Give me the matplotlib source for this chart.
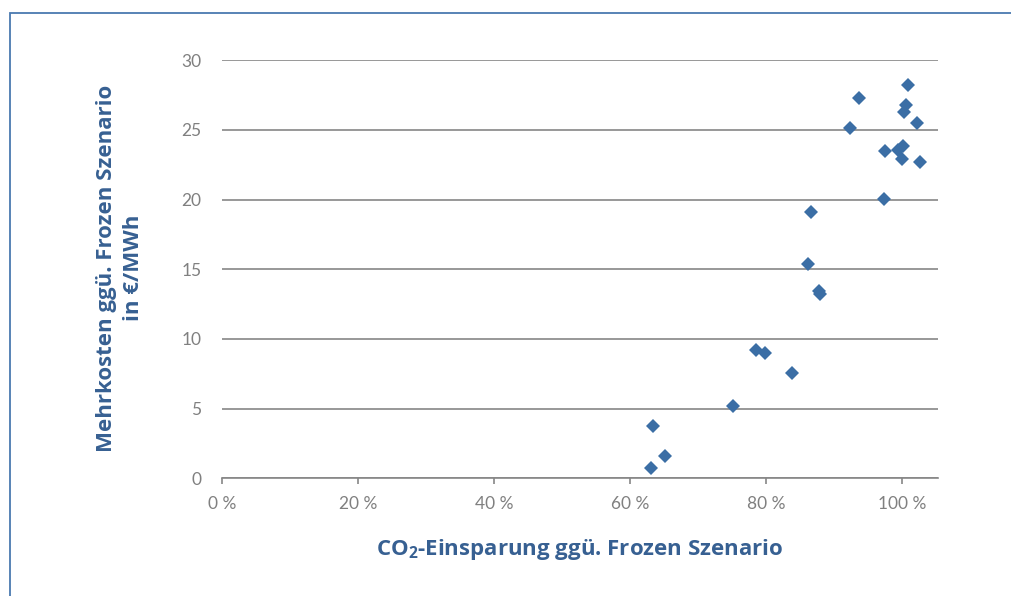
import matplotlib
matplotlib.use("Agg")
import matplotlib.pyplot as plt
from matplotlib.patches import Rectangle
from matplotlib.ticker import FuncFormatter

# CO2 savings (share of Frozen scenario) and extra cost in EUR/MWh
co2_einsparung = [0.631, 0.633, 0.651, 0.751, 0.785, 0.798, 0.838, 0.862, 0.866,
                  0.878, 0.879, 0.923, 0.936, 0.974, 0.973, 1.008, 1.006, 1.002,
                  1.021, 0.994, 1.001, 1.000, 1.026]
mehrkosten = [0.72, 3.73, 1.62, 5.17, 9.21, 9.02, 7.58, 15.41, 19.10,
              13.46, 13.25, 25.15, 27.28, 23.47, 20.05, 28.26, 26.80, 26.30,
              25.53, 23.55, 23.84, 22.90, 22.70]
x_ticks = [0, 0.2, 0.4, 0.6, 0.8, 1.0]
y_ticks = [0, 5, 10, 15, 20, 25, 30]

plt.rcParams['font.family'] = ['Lato', 'DejaVu Sans']
plt.rcParams['mathtext.fontset'] = 'custom'
plt.rcParams['mathtext.bf'] = 'Open Sans:bold'
plt.rcParams['mathtext.rm'] = 'Open Sans:bold'

BLUE = "#3b6ea5"
TITLE = "#376092"
GREY = "#808080"

fig = plt.figure(figsize=(10.11, 5.96), dpi=100)
ax = fig.add_axes([0.2199, 0.1975, 0.7076, 0.7013])

ax.plot(co2_einsparung, mehrkosten, linestyle="none", marker="D",
        markersize=7, color=BLUE, markeredgewidth=0, zorder=3)

ax.set_xlim(0, 1.052)
ax.set_ylim(0, 30)
ax.set_xticks(x_ticks)
ax.set_yticks(y_ticks)
ax.xaxis.set_major_formatter(FuncFormatter(lambda v, p: f"{v * 100:.0f} %"))

ax.grid(axis="y", color="#868686", linewidth=1.2)
ax.set_axisbelow(True)
for side in ("top", "right", "left"):
    ax.spines[side].set_visible(False)
ax.spines["bottom"].set_color("#868686")
ax.spines["bottom"].set_linewidth(1.2)

ax.tick_params(axis="x", direction="out", length=4, width=1.2, color="#868686",
               labelcolor=GREY, labelsize=12.5, pad=9)
ax.tick_params(axis="y", length=0, labelcolor=GREY, labelsize=12.5, pad=15)

fig.text(580 / 1011, 1 - 550 / 596,
         r"$\mathbf{CO_2}$-Einsparung ggü. Frozen Szenario",
         family="Open Sans", fontsize=16, fontweight="bold", color=TITLE,
         ha="center", va="center")
fig.text(120 / 1011, 1 - 268 / 596,
         "Mehrkosten ggü. Frozen Szenario\nin €/MWh",
         family="Open Sans", fontsize=16, fontweight="bold", color=TITLE,
         rotation=90, ha="center", va="center", multialignment="center",
         linespacing=1.4)

# chart area frame
fig.patches.append(Rectangle((9.5 / 1011, -0.1), 1.2, (596 - 13) / 596 + 0.1,
                             transform=fig.transFigure, fill=False,
                             edgecolor="#4a7ab0", linewidth=1.3))

fig.savefig("out.png", dpi=100)
